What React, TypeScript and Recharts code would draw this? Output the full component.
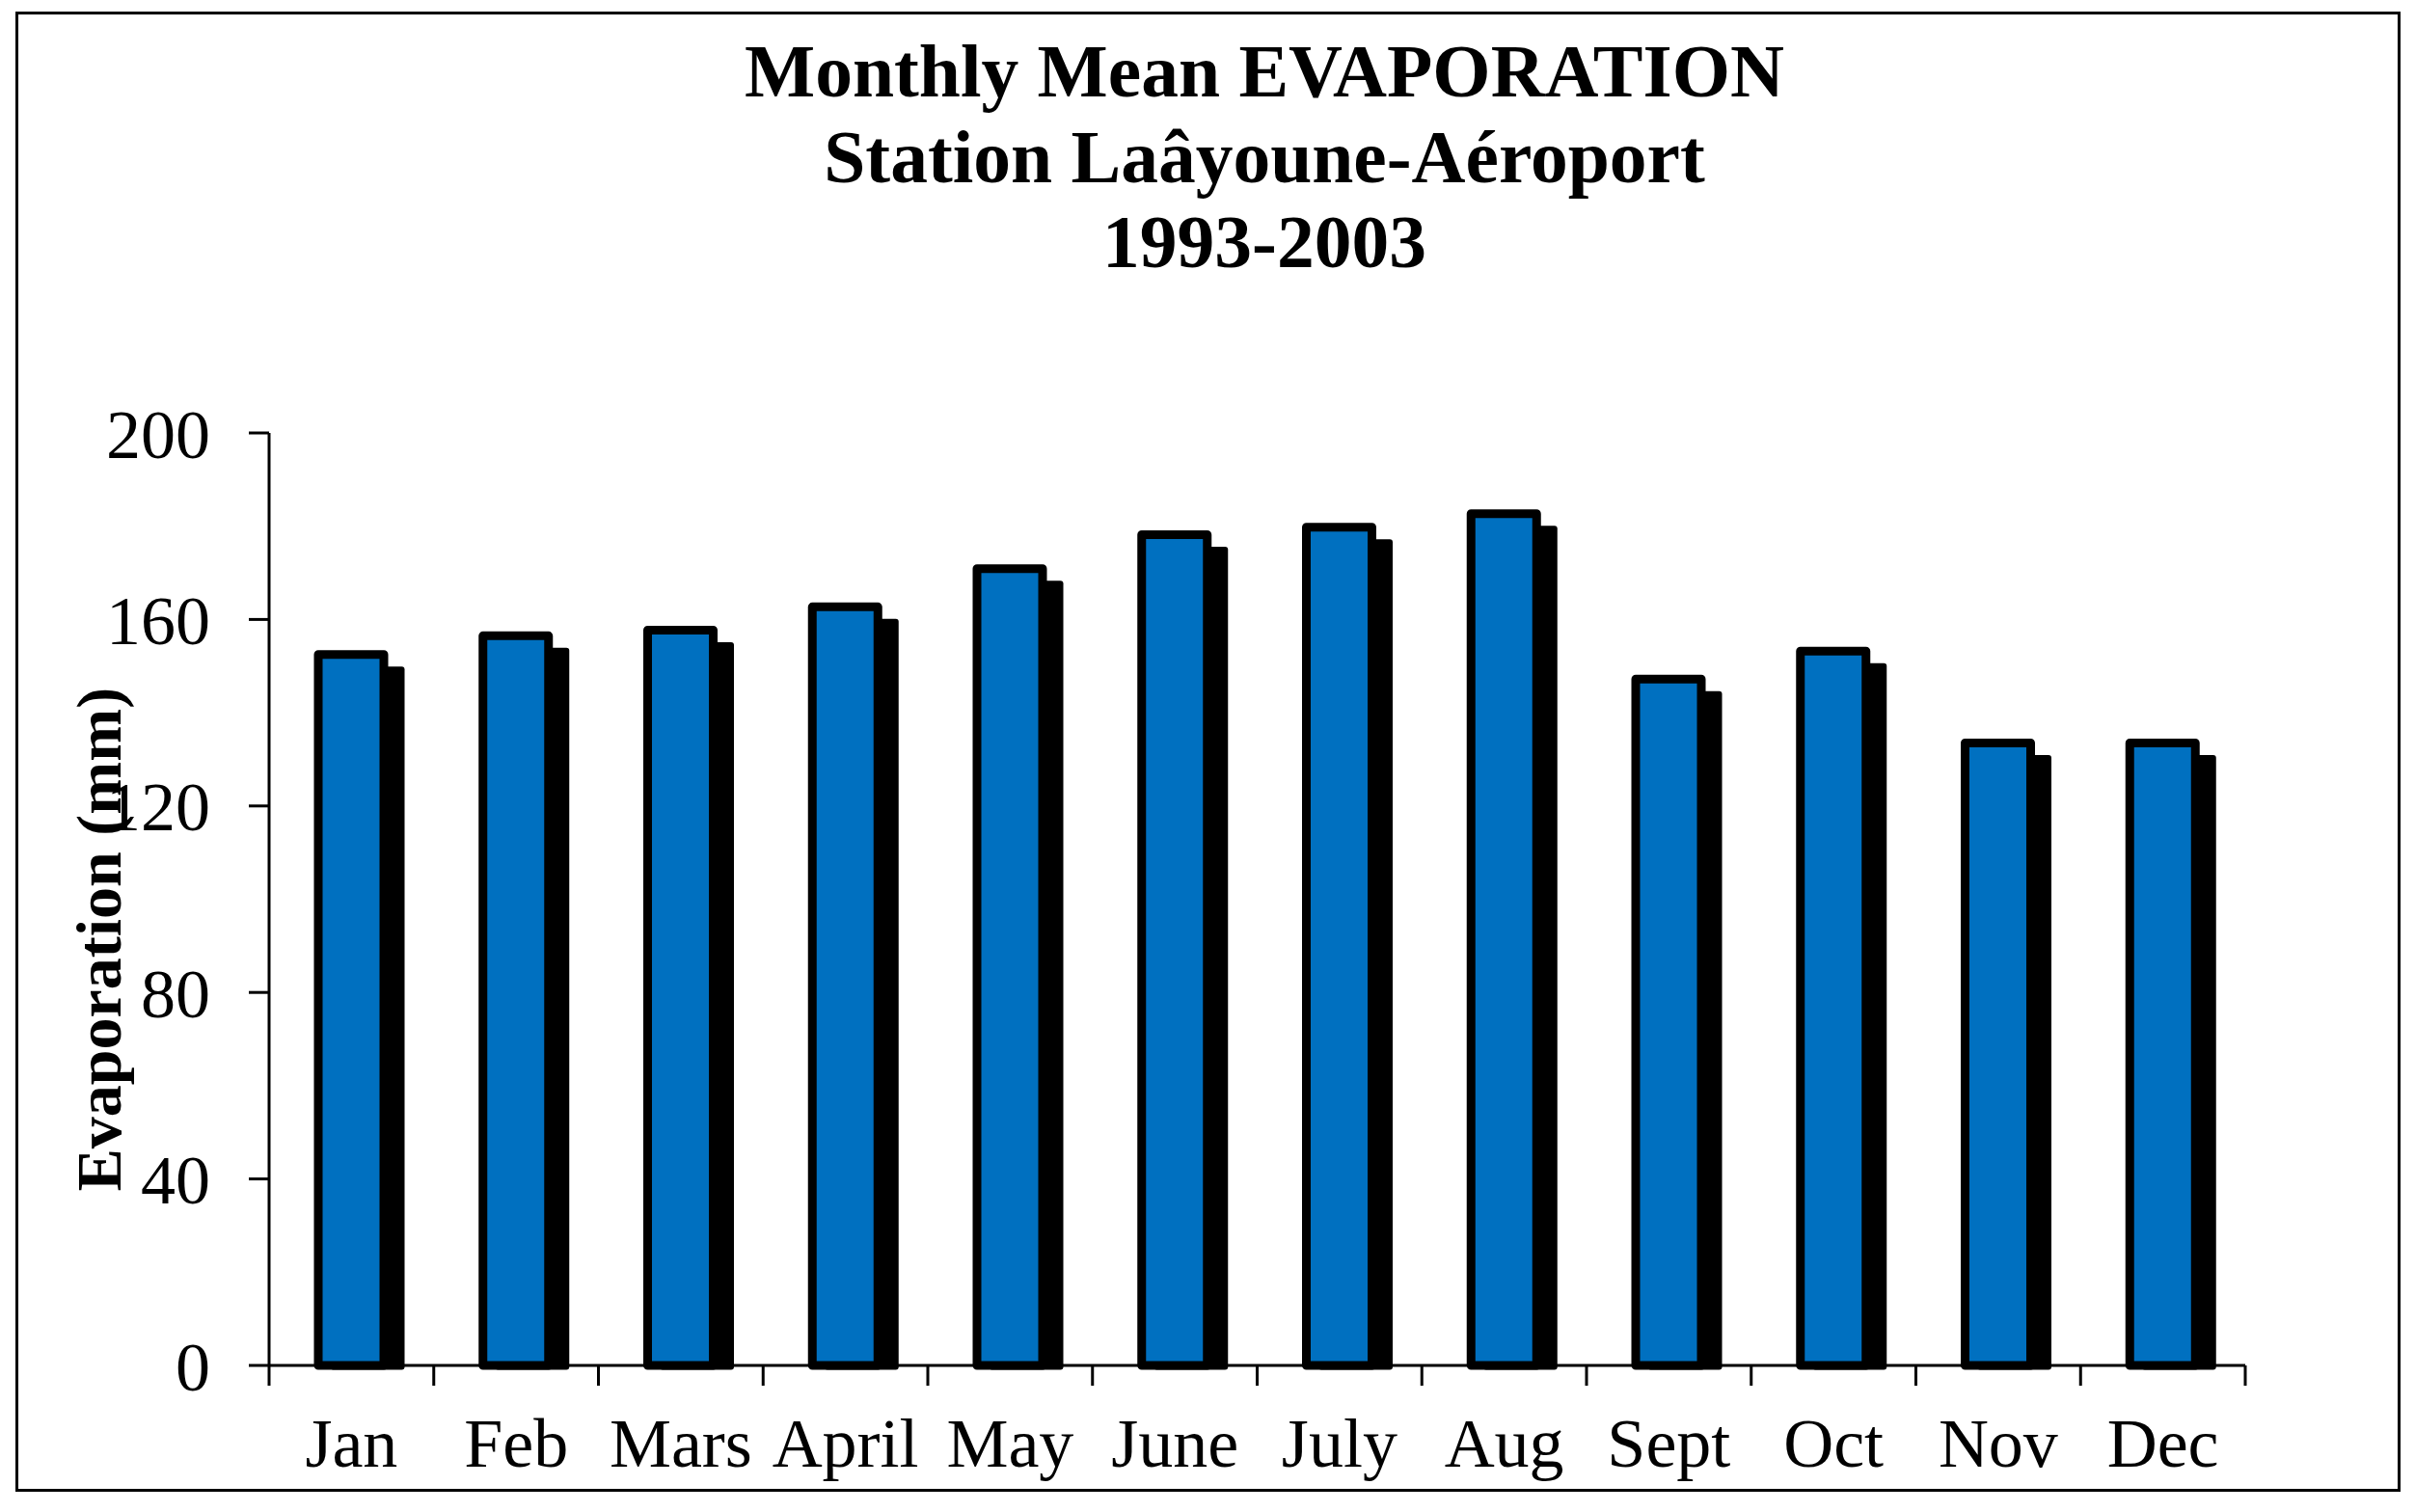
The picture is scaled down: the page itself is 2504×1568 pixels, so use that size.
import { Bar, BarChart, XAxis, YAxis } from "recharts";

const months = ["Jan", "Feb", "Mars", "April", "May", "June", "July", "Aug", "Sept", "Oct", "Nov", "Dec"];
const evaporation = [152.5, 156.5, 157.7, 162.7, 170.9, 178.2, 179.8, 182.7, 147.2, 153.2, 133.5, 133.5];
const yTicks = [0, 40, 80, 120, 160, 200];
const titleLines = ["Monthly Mean EVAPORATION", "Station Laâyoune-Aéroport", "1993-2003"];

const data = months.map((month, i) => ({ month, value: evaporation[i] }));

const W = 2504;
const H = 1568;
const PLOT_LEFT = 279;
const PLOT_RIGHT = 2328;
const FONT = "'Times New Roman', 'Liberation Serif', serif";
const X_TICK_SIZE = 21;
const X_TICK_MARGIN = 33;
const HALF_BAND = (PLOT_RIGHT - PLOT_LEFT) / months.length / 2;

// bar with a black drop shadow, like the old Excel style
const ShadowBar = (props: any) => {
	const { x, y, width, height } = props;
	const sw = 9;
	const off = 17;
	const h = sw / 2;
	return (
		<g>
			<rect
				x={x - h + off}
				y={y - h + off}
				width={width + sw}
				height={Math.max(0, height + sw - off)}
				rx={3}
				fill="#000"
			/>
			<rect
				x={x}
				y={y}
				width={width}
				height={height}
				fill="#0070C0"
				stroke="#000"
				strokeWidth={sw}
				strokeLinejoin="round"
			/>
		</g>
	);
};

// month label, tick marks sit on the category boundaries
const MonthTick = (props: any) => {
	const { x, y, payload, index } = props;
	const axisY = y - X_TICK_SIZE - X_TICK_MARGIN;
	return (
		<g>
			<line x1={x - HALF_BAND} x2={x - HALF_BAND} y1={axisY} y2={axisY + X_TICK_SIZE} stroke="#000" strokeWidth={3} />
			{index === months.length - 1 && (
				<line x1={x + HALF_BAND} x2={x + HALF_BAND} y1={axisY} y2={axisY + X_TICK_SIZE} stroke="#000" strokeWidth={3} />
			)}
			<text x={x} y={y + 51} textAnchor="middle" fill="#000" fontSize={72} fontFamily={FONT}>
				{payload.value}
			</text>
		</g>
	);
};

export default function App() {
	return (
		<div style={{ position: "relative", width: W, height: H, background: "#fff" }}>
			<style>{"body{margin:0}"}</style>
			<div
				style={{
					position: "absolute",
					left: 16,
					top: 12,
					width: 2473,
					height: 1535,
					border: "3px solid #000",
					boxSizing: "border-box",
				}}
			/>
			<BarChart
				width={W}
				height={H}
				data={data}
				margin={{ top: 449, right: W - PLOT_RIGHT, bottom: 92, left: 79 }}
				style={{ position: "absolute", left: 0, top: 0 }}
			>
				<XAxis
					dataKey="month"
					height={60}
					interval={0}
					axisLine={{ stroke: "#000", strokeWidth: 3 }}
					tickLine={false}
					tickSize={X_TICK_SIZE}
					tickMargin={X_TICK_MARGIN}
					tick={<MonthTick />}
				/>
				<YAxis
					width={200}
					domain={[0, 200]}
					ticks={yTicks}
					interval={0}
					axisLine={{ stroke: "#000", strokeWidth: 3 }}
					tickLine={{ stroke: "#000", strokeWidth: 3 }}
					tickSize={21}
					tickMargin={40}
					tick={{ fill: "#000", fontSize: 72, fontFamily: FONT }}
				/>
				<Bar dataKey="value" barSize={68} shape={(p: any) => <ShadowBar {...p} />} isAnimationActive={false} />
			</BarChart>
			<svg
				width={W}
				height={H}
				style={{ position: "absolute", left: 0, top: 0, pointerEvents: "none" }}
			>
				{titleLines.map((line, i) => (
					<text
						key={line}
						x={1311}
						y={100 + i * 88.5}
						textAnchor="middle"
						fontSize={77.5}
						fontWeight="bold"
						fontFamily={FONT}
						fill="#000"
					>
						{line}
					</text>
				))}
				<text
					x={125}
					y={974}
					transform="rotate(-90, 125, 974)"
					textAnchor="middle"
					fontSize={66}
					fontWeight="bold"
					fontFamily={FONT}
					fill="#000"
				>
					Evaporation (mm)
				</text>
			</svg>
		</div>
	);
}
